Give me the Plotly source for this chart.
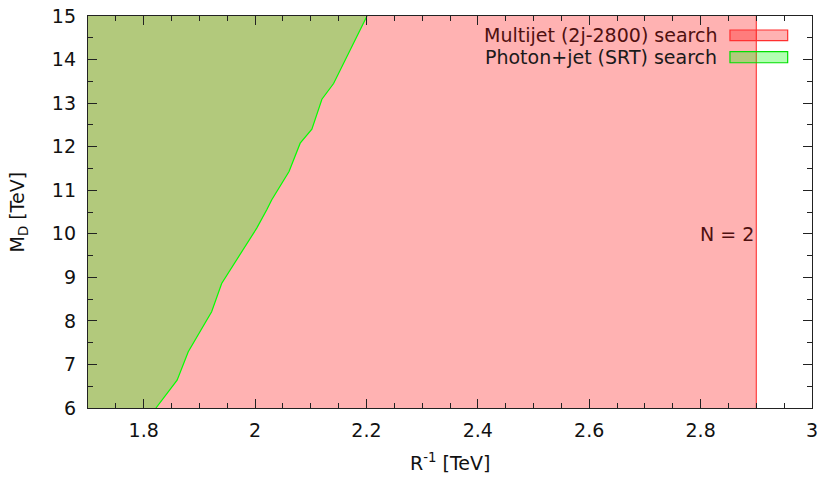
import plotly.graph_objects as go

# Data
x_range = [1.7, 3.0]
y_range = [6, 15]
multijet_limit_x = 2.9          # Multijet (2j-2800) search exclusion edge in R^-1 [TeV]
photon_bound_x = [1.822, 1.860, 1.880, 1.922, 1.940, 2.003, 2.021, 2.030,
                  2.061, 2.081, 2.102, 2.120, 2.141, 2.201]
photon_bound_y = [6.0, 6.64, 7.29, 8.21, 8.86, 10.13, 10.55, 10.78,
                  11.43, 12.08, 12.40, 13.09, 13.45, 15.0]
x_ticks = [1.8, 2.0, 2.2, 2.4, 2.6, 2.8, 3.0]
x_tick_text = ["1.8", "2", "2.2", "2.4", "2.6", "2.8", "3"]
y_ticks = [6, 7, 8, 9, 10, 11, 12, 13, 14, 15]
labels = ["Multijet (2j-2800) search", "Photon+jet (SRT) search"]
n_label = "N = 2"
x_title = "R<sup>-1</sup> [TeV]"
y_title = "M<sub>D</sub> [TeV]"

RED_FILL = "rgba(255,0,0,0.3)"
GREEN_FILL = "rgba(0,255,0,0.3)"
FONT = "DejaVu Sans"
FS = 19

fig = go.Figure()

# Multijet region
fig.add_trace(go.Scatter(
    x=[x_range[0], multijet_limit_x, multijet_limit_x, x_range[0], x_range[0]],
    y=[y_range[0], y_range[0], y_range[1], y_range[1], y_range[0]],
    fill="toself", fillcolor=RED_FILL, mode="none", showlegend=False,
    hoverinfo="skip"))
fig.add_trace(go.Scatter(
    x=[multijet_limit_x, multijet_limit_x], y=y_range, mode="lines",
    line=dict(color="#ff4040", width=1.2), showlegend=False, hoverinfo="skip"))

# Photon+jet region
gx = [x_range[0]] + photon_bound_x + [x_range[0], x_range[0]]
gy = [y_range[0]] + photon_bound_y + [y_range[1], y_range[0]]
fig.add_trace(go.Scatter(
    x=gx, y=gy, fill="toself", fillcolor=GREEN_FILL, mode="none",
    showlegend=False, hoverinfo="skip"))
fig.add_trace(go.Scatter(
    x=photon_bound_x, y=photon_bound_y, mode="lines",
    line=dict(color="#00ff00", width=1.2), showlegend=False, hoverinfo="skip"))

# N = 2 label
fig.add_annotation(x=multijet_limit_x - 0.001, y=10, text=n_label, showarrow=False,
                   xanchor="right", yanchor="middle",
                   font=dict(family=FONT, size=FS, color="#4f1010"))

# Manual gnuplot-style legend (text left, swatch right)
legend_rows = [
    (labels[0], "#4f1010", RED_FILL, "#ff3030", 0.9515, 0.9643, 0.937),
    (labels[1], "#1a1a1a", GREEN_FILL, "#00e000", 0.896, 0.9089, 0.8808),
]
for text, tcol, fcol, lcol, yt, y1, y0 in legend_rows:
    fig.add_annotation(x=0.872, y=yt, xref="paper", yref="paper", text=text,
                       showarrow=False, xanchor="right", yanchor="middle",
                       font=dict(family=FONT, size=FS, color=tcol))
    fig.add_shape(type="rect", xref="paper", yref="paper",
                  x0=0.8867, x1=0.9664, y0=y0, y1=y1,
                  fillcolor=fcol, line=dict(color=lcol, width=1.2), layer="above")

# Axis titles as annotations
fig.add_annotation(x=0.5, y=-0.1735, xref="paper", yref="paper", text=x_title,
                   showarrow=False, xanchor="center", yanchor="bottom",
                   font=dict(family=FONT, size=FS, color="#111111"))
fig.add_annotation(x=-0.096, y=0.5, xref="paper", yref="paper", text=y_title,
                   showarrow=False, xanchor="center", yanchor="middle", textangle=-90,
                   font=dict(family=FONT, size=FS, color="#111111"))

axis_common = dict(
    showgrid=False, zeroline=False, showline=True, linecolor="#222222",
    linewidth=1.3, mirror="ticks", ticks="inside", ticklen=9, tickwidth=1,
    tickcolor="#222222", automargin=False,
    tickfont=dict(family=FONT, size=FS, color="#111111"),
)

fig.update_xaxes(
    range=x_range, tickvals=x_ticks, ticktext=x_tick_text,
    minor=dict(ticks="inside", ticklen=5, dtick=0.05, tick0=1.7,
               tickcolor="#222222", showgrid=False),
    ticklabelstandoff=5,
    **axis_common)
fig.update_yaxes(
    range=y_range, tickvals=y_ticks,
    minor=dict(ticks="inside", ticklen=5, dtick=0.5, tick0=6,
               tickcolor="#222222", showgrid=False),
    ticklabelstandoff=7,
    **axis_common)

fig.update_layout(
    width=821, height=477,
    margin=dict(l=88, r=9, t=16, b=69),
    plot_bgcolor="white", paper_bgcolor="white",
    showlegend=False,
    font=dict(family=FONT, size=FS, color="#111111"),
)

fig.write_html("out.html", config={"displayModeBar": False},
               post_script="document.body.style.margin='0';document.body.style.overflow='hidden';")
